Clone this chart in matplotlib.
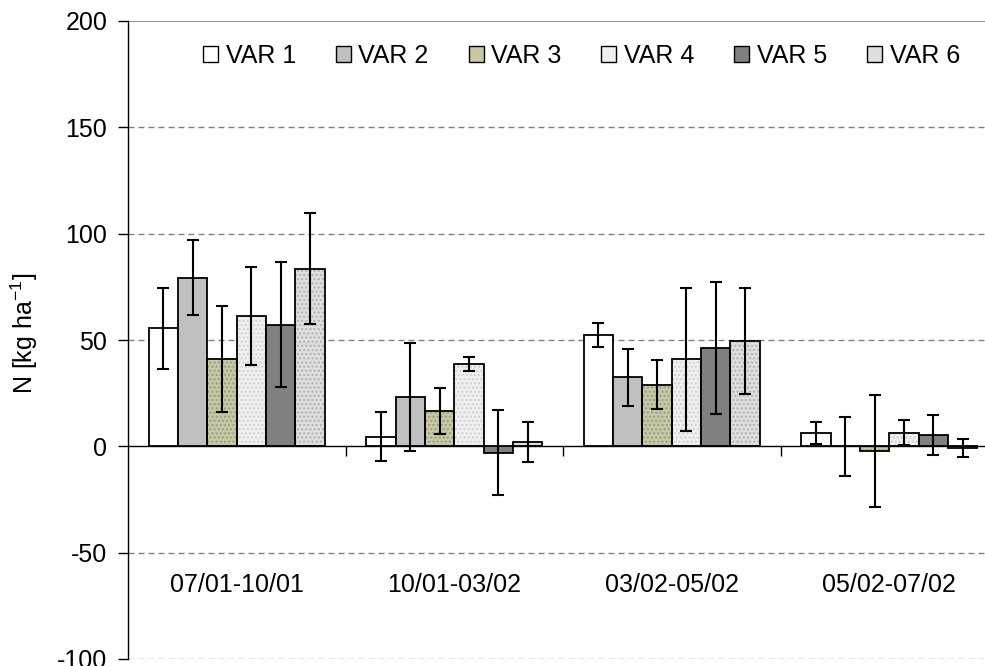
import numpy as np
import matplotlib.pyplot as plt

plt.rcParams['font.family'] = ['Liberation Sans', 'DejaVu Sans']
plt.rcParams['mathtext.default'] = 'regular'
plt.rcParams['axes.unicode_minus'] = False

# periods on the x axis
periods = ['07/01-10/01', '10/01-03/02', '03/02-05/02', '05/02-07/02']
series_names = ['VAR 1', 'VAR 2', 'VAR 3', 'VAR 4', 'VAR 5', 'VAR 6']

# mean N values per variant, one value per period
var1 = [55.5, 4.5, 52.2, 6.3]
var2 = [79.3, 23.2, 32.4, 0.0]
var3 = [41.0, 16.6, 29.0, -2.2]
var4 = [61.4, 38.7, 40.9, 6.3]
var5 = [57.2, -3.1, 46.1, 5.3]
var6 = [83.5, 2.0, 49.5, -0.8]

# error bar half widths
err1 = [19.0, 11.5, 5.6, 5.2]
err2 = [17.5, 25.5, 13.2, 14.0]
err3 = [25.0, 11.0, 11.5, 26.3]
err4 = [23.0, 3.5, 33.5, 5.9]
err5 = [29.3, 20.0, 31.0, 9.2]
err6 = [26.0, 9.3, 24.8, 4.3]

values = [var1, var2, var3, var4, var5, var6]
errors = [err1, err2, err3, err4, err5, err6]
colors = ['#ffffff', '#c0c0c0', '#c8c8a6', '#efefef', '#808080', '#dedede']
hatches = [None, None, '....', '....', None, '....']
hatch_cols = [None, None, '#9a9a80', '#d0d0d0', None, '#b0b0b0']

y_ticks = [-100, -50, 0, 50, 100, 150, 200]
grid_levels = [-100, -50, 50, 100, 150]


def drawChart():
    fig = plt.figure(figsize=(9.85, 6.66), dpi=100)
    ax = fig.add_axes([128 / 985, 7 / 666, 870 / 985, 638 / 666])

    x = np.arange(len(periods))
    w = 0.135

    for level in grid_levels:
        ax.axhline(level, color='#808080', linestyle=(0, (4.3, 2.9)), linewidth=1.0, zorder=0)
    # top border line of the plot area
    ax.axhline(200, color='#808080', linewidth=1.2, zorder=0)

    for i in range(len(series_names)):
        pos = x + (i - 2.5) * w
        if hatches[i] is not None:
            # texture layer, then outline on top
            ax.bar(pos, values[i], width=w, color=colors[i], hatch=hatches[i],
                   edgecolor=hatch_cols[i], linewidth=0, zorder=2)
            ax.bar(pos, values[i], width=w, color='none', edgecolor='black',
                   linewidth=1.3, zorder=3)
        else:
            ax.bar(pos, values[i], width=w, color=colors[i], edgecolor='black',
                   linewidth=1.3, zorder=3)
        ax.errorbar(pos, values[i], yerr=errors[i], fmt='none', ecolor='black',
                    elinewidth=1.5, capsize=4.5, capthick=1.5, zorder=4)

    ax.set_xlim(-0.5, len(periods) - 0.5)
    ax.set_ylim(-100, 200)
    ax.set_yticks(y_ticks)
    ax.tick_params(axis='y', labelsize=18, direction='out', length=7, width=1, pad=8)

    ax.spines['top'].set_visible(False)
    ax.spines['right'].set_visible(False)
    ax.spines['bottom'].set_position(('data', 0))
    ax.spines['left'].set_linewidth(1.0)
    ax.spines['bottom'].set_linewidth(1.0)

    ax.set_xticks(x[:-1] + 0.5)
    ax.set_xticklabels([])
    ax.tick_params(axis='x', direction='out', length=7, width=1)

    for k in range(len(periods)):
        ax.text(x[k], -65, periods[k], ha='center', va='center', fontsize=18)

    ax.set_ylabel('N [kg ha$^{-1}$]', fontsize=18)
    ax.yaxis.set_label_coords(-0.101, 0.51)

    # legend with square swatches
    handles = []
    for i in range(len(series_names)):
        h = plt.Rectangle((0, 0), 1, 1, facecolor=colors[i], edgecolor='black',
                          linewidth=1.0)
        handles.append(h)
    ax.legend(handles, series_names, ncol=6, loc='center left',
              bbox_to_anchor=(203 / 985, 1 - 56 / 666),
              bbox_transform=fig.transFigure, frameon=False, fontsize=18,
              handlelength=0.6, handleheight=0.6, handletextpad=0.3,
              columnspacing=1.6, borderaxespad=0, borderpad=0)

    fig.savefig('out.png', dpi=100)


drawChart()
